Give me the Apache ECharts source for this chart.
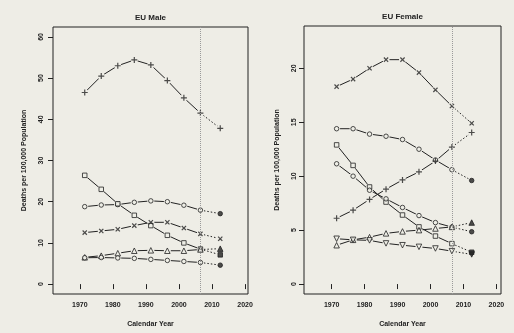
<!DOCTYPE html>
<html>
<head>
<meta charset="utf-8">
<script src="https://cdn.jsdelivr.net/npm/echarts@6/dist/echarts.min.js"></script>
<style>
html,body{margin:0;padding:0;background:#eeede6;}
#c{width:514px;height:333px;}
</style>
</head>
<body>
<div id="c"></div>
<script>
// ---- data ----
const obsYears = [1971.5, 1976.5, 1981.5, 1986.5, 1991.5, 1996.5, 2001.5, 2006.5];
const projYear = 2012.5;
const lastObsYear = 2006.5;
const xTicks = [1970, 1980, 1990, 2000, 2010, 2020];
const maleYTicks = [0, 10, 20, 30, 40, 50, 60];
const femaleYTicks = [0, 5, 10, 15, 20];

// values: 8 observed periods + projection (last value)
const malePlus     = [46.5, 50.5, 53.0, 54.4, 53.2, 49.4, 45.2, 41.5, 37.8];
const maleCircle   = [18.8, 19.2, 19.3, 19.85, 20.2, 20.0, 19.15, 17.95, 17.1];
const maleSquare   = [26.4, 23.0, 19.5, 16.7, 14.2, 11.85, 10.0, 8.5, 7.1];
const maleCross    = [12.5, 12.9, 13.3, 14.2, 15.0, 15.0, 13.6, 12.2, 11.0];
const maleTriangle = [6.5, 6.9, 7.5, 8.1, 8.2, 8.1, 8.1, 8.4, 8.6];
const maleLowCircle= [6.4, 6.45, 6.35, 6.25, 6.0, 5.75, 5.5, 5.25, 4.6];

const femaleCross    = [18.3, 19.0, 20.0, 20.8, 20.8, 19.6, 18.0, 16.5, 14.9];
const femaleCircle   = [14.4, 14.4, 13.9, 13.7, 13.4, 12.5, 11.5, 10.6, 9.6];
const femaleSquare   = [12.9, 11.0, 9.0, 7.6, 6.4, 5.3, 4.45, 3.75, 2.95];
const femaleCircle2  = [11.15, 10.0, 8.7, 7.9, 7.1, 6.35, 5.7, 5.28, 4.85];
const femalePlus     = [6.1, 6.85, 7.85, 8.8, 9.65, 10.4, 11.4, 12.7, 14.05];
const femaleTriUp    = [3.6, 4.1, 4.35, 4.7, 4.88, 5.0, 5.15, 5.3, 5.7];
const femaleTriDown  = [4.2, 4.1, 4.05, 3.77, 3.6, 3.45, 3.3, 3.05, 2.75];

// ---- styling ----
const BG = '#eeede6', INK = '#222';
const FONT = '"Liberation Sans", Arial, sans-serif';
const PLUS = 'path://M4,0H6V4H10V6H6V10H4V6H0V4H4Z';
const markers = {
  plus:   {symbol: PLUS, size: 6, rotate: 0, open: false},
  cross:  {symbol: PLUS, size: 6, rotate: 45, open: false},
  circle: {symbol: 'circle', size: 4.5, rotate: 0, open: true},
  square: {symbol: 'rect', size: 4.5, rotate: 0, open: true},
  triUp:  {symbol: 'triangle', size: 5.5, rotate: 0, open: true},
  triDown:{symbol: 'triangle', size: 5.5, rotate: 180, open: true}
};

const panels = [
  {grid: 0, series: [
    [malePlus, 'plus'], [maleCircle, 'circle'], [maleSquare, 'square'],
    [maleCross, 'cross'], [maleTriangle, 'triUp'], [maleLowCircle, 'circle']]},
  {grid: 1, series: [
    [femaleCross, 'cross'], [femaleCircle, 'circle'], [femaleSquare, 'square'],
    [femaleCircle2, 'circle'], [femalePlus, 'plus'], [femaleTriUp, 'triUp'], [femaleTriDown, 'triDown']]}
];

const series = [];
panels.forEach(p => {
  p.series.forEach((s, idx) => {
    const vals = s[0], m = markers[s[1]];
    const obs = obsYears.map((y, i) => [y, vals[i]]);
    const proj = [[lastObsYear, vals[obsYears.length - 1]], [projYear, vals[obsYears.length]]];
    const line = {
      type: 'line', xAxisIndex: p.grid, yAxisIndex: p.grid, data: obs, z: 2,
      symbol: 'circle', symbolSize: 7, showSymbol: true, animation: false, silent: true,
      itemStyle: {color: BG, borderWidth: 0},
      lineStyle: {color: INK, width: 1}
    };
    if (idx === 0) {
      line.markLine = {
        silent: true, symbol: 'none', animation: false,
        label: {show: false},
        lineStyle: {type: 'dotted', color: '#9a9a9a', width: 1},
        data: [{xAxis: lastObsYear}]
      };
    }
    series.push(line);
    series.push({
      type: 'line', xAxisIndex: p.grid, yAxisIndex: p.grid, data: proj, z: 2,
      symbol: 'circle', symbolSize: 7, showSymbol: true, animation: false, silent: true,
      itemStyle: {color: BG, borderWidth: 0},
      lineStyle: {color: INK, width: 1, type: [1.5, 2]}
    });
    series.push({
      type: 'scatter', xAxisIndex: p.grid, yAxisIndex: p.grid, data: obs, z: 3,
      symbol: m.symbol, symbolSize: m.size, symbolRotate: m.rotate, animation: false, silent: true,
      itemStyle: m.open ? {color: BG, borderColor: INK, borderWidth: 1} : {color: INK, borderWidth: 0}
    });
    series.push({
      type: 'scatter', xAxisIndex: p.grid, yAxisIndex: p.grid, data: [proj[1]], z: 3,
      symbol: m.symbol, symbolSize: m.size, symbolRotate: m.rotate, animation: false, silent: true,
      itemStyle: {color: INK, borderColor: INK, borderWidth: m.open ? 1 : 0}
    });
  });
});

function xAxis(gi, min, max) {
  return {
    type: 'value', gridIndex: gi, min: min, max: max,
    name: 'Calendar Year', nameLocation: 'middle', nameGap: 27,
    nameTextStyle: {color: INK, fontSize: 7, fontWeight: 'bold', fontFamily: FONT},
    axisLine: {show: false},
    axisTick: {show: true, length: 5, customValues: xTicks, lineStyle: {color: INK, width: 1}},
    axisLabel: {customValues: xTicks, formatter: v => String(v), color: INK, fontSize: 7, fontWeight: 'bold', fontFamily: FONT, margin: 8},
    splitLine: {show: false}
  };
}
function yAxis(gi, min, max, ticks, margin, gap) {
  return {
    type: 'value', gridIndex: gi, min: min, max: max,
    name: 'Deaths per 100,000 Population', nameLocation: 'middle', nameGap: gap,
    nameTextStyle: {color: INK, fontSize: 7, fontWeight: 'bold', fontFamily: FONT},
    axisLine: {show: false},
    axisTick: {show: true, length: 5, customValues: ticks, lineStyle: {color: INK, width: 1}},
    axisLabel: {customValues: ticks, formatter: v => String(v), rotate: 90, color: INK, fontSize: 7, fontWeight: 'bold', fontFamily: FONT, margin: margin},
    splitLine: {show: false}
  };
}

const chart = echarts.init(document.getElementById('c'), null, {renderer: 'canvas'});
chart.setOption({
  backgroundColor: BG,
  animation: false,
  title: [
    {text: 'EU Male', left: 150.5, top: 14, padding: 0, textAlign: 'center',
     textStyle: {color: INK, fontSize: 8, fontWeight: 'bold', fontFamily: FONT}},
    {text: 'EU Female', left: 402.5, top: 13, padding: 0, textAlign: 'center',
     textStyle: {color: INK, fontSize: 8, fontWeight: 'bold', fontFamily: FONT}}
  ],
  grid: [
    {left: 53, top: 27, width: 195, height: 269, show: true, borderColor: INK, borderWidth: 1, backgroundColor: 'transparent', containLabel: false},
    {left: 304, top: 26, width: 197, height: 268, show: true, borderColor: INK, borderWidth: 1, backgroundColor: 'transparent', containLabel: false}
  ],
  xAxis: [xAxis(0, 1961.9, 2020.9), xAxis(1, 1961.6, 2021.4)],
  yAxis: [yAxis(0, -2.4, 62.4, maleYTicks, 8, 25), yAxis(1, -0.92, 23.92, femaleYTicks, 6, 23)],
  series: series
});
</script>
</body>
</html>
